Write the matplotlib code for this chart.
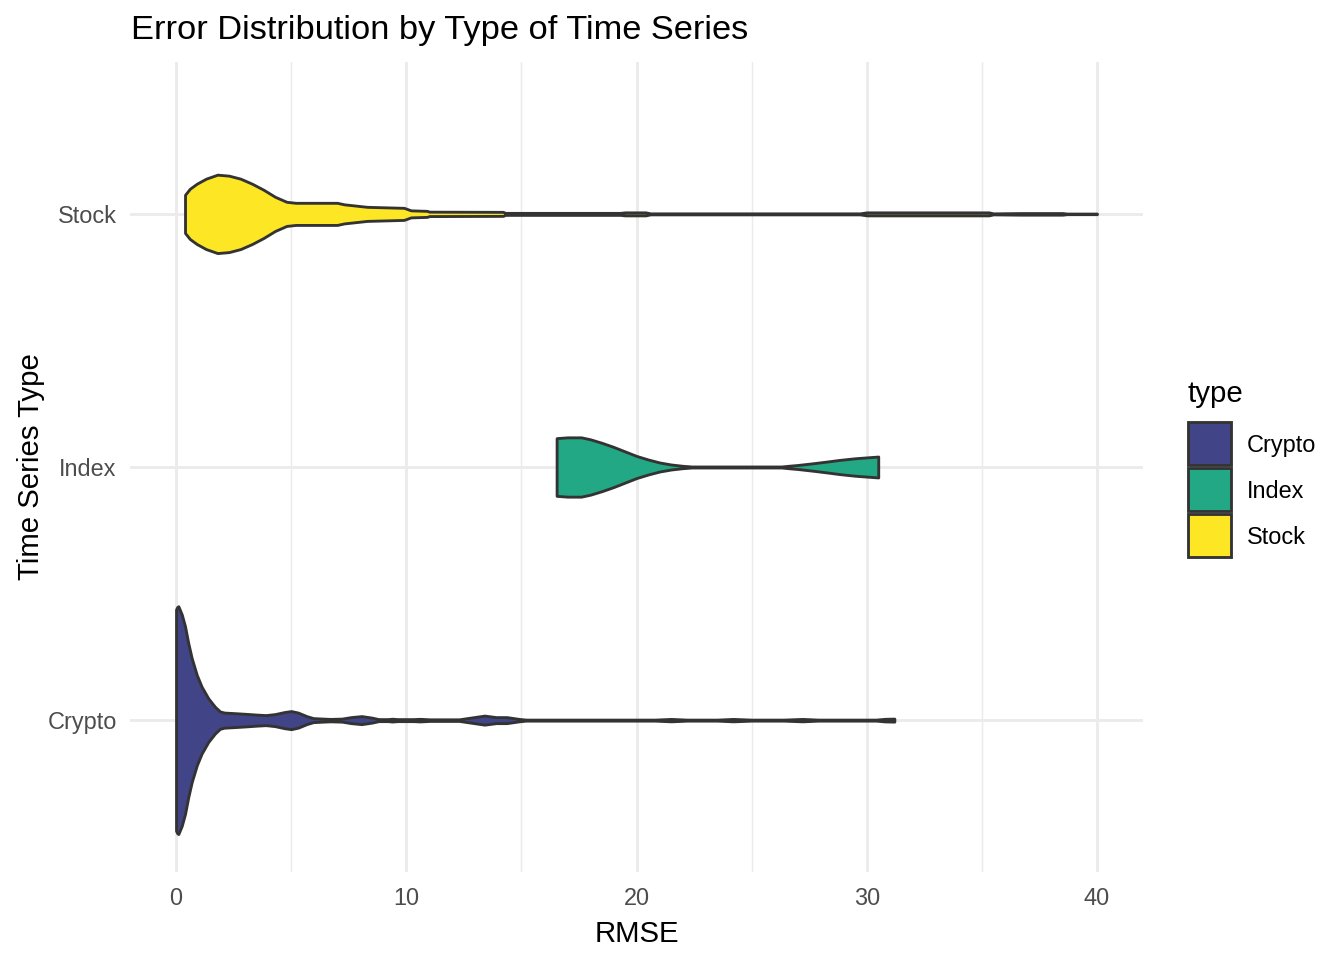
import numpy as np
import matplotlib
matplotlib.use("Agg")
import matplotlib.pyplot as plt
from matplotlib.patches import Rectangle

plt.rcParams["font.family"] = ["Liberation Sans", "DejaVu Sans"]

# ---- data: violin half-width profiles (relative density) ----
types = ["Crypto", "Index", "Stock"]
colors = ["#414487", "#22A884", "#FDE725"]

crypto_x = [0.0, 0.05, 0.1, 0.25, 0.39, 0.53, 0.68, 0.9, 1.11, 1.40, 1.69, 1.91, 2.1,
            2.5, 3.0, 3.5, 3.9, 4.3, 4.7, 5.0, 5.3, 5.67, 5.96, 6.4,
            6.7, 7.2, 7.6, 8.06, 8.5, 8.8, 9.2, 9.4, 9.6, 10.3, 10.6, 11.0, 12.3, 12.8, 13.4,
            13.9, 14.36, 14.9, 15.2, 20.8, 21.5, 22.2, 23.5, 24.2, 25.0, 26.4, 27.2, 27.9,
            30.4, 30.8, 31.2]
crypto_d = [110, 112.5, 113.3, 105, 93.3, 76.7, 61.7, 45, 33.3, 21.7, 13.3, 8.6, 7.5,
            7, 6.3, 5.5, 5, 6, 8, 9, 7.5, 4, 2, 1.5,
            1.2, 1.5, 3, 4, 2.5, 1, 1, 1.4, 1, 1, 1.3, 0.8, 0.8, 2.5, 4.5,
            3, 3, 1.2, 0.5, 0.5, 1.2, 0.5, 0.5, 1.2, 0.5, 0.5, 1.2, 0.5,
            0.5, 1.3, 1.5]

index_x = [16.53, 17.0, 17.6, 18.0, 18.5, 19.0, 19.5, 20.0, 20.5, 21.0, 21.5, 22.0, 22.4,
           26.3, 26.6, 27.0, 27.7, 28.3, 28.8, 29.5, 30.5]
index_d = [28.7, 29.5, 29.5, 27.5, 24, 20, 15.5, 11, 7.5, 4.5, 2.5, 1.2, 0.5,
           0.5, 1.2, 2, 3.8, 5.5, 7, 8.7, 10.4]

stock_x = [0.39, 0.6, 0.9, 1.3, 1.8, 2.3, 2.8, 3.3, 3.8, 4.3, 4.8, 5.2, 7.0, 7.3, 8.3, 9.9,
           10.2, 10.9, 11.0, 14.2, 14.3, 19.3, 19.5, 20.4, 20.6, 29.7, 30.0, 35.3, 35.5,
           36.7, 38.5, 38.7, 40.0]
stock_d = [19, 25, 30, 35, 39, 38, 35, 30, 24, 17, 12, 11, 11, 9.5, 7, 6,
           3.5, 3, 2.2, 2, 1.0, 1.0, 1.5, 1.5, 0.5, 0.5, 1.5, 1.5, 0.5,
           0.8, 0.8, 0.3, 0.3]

profiles = [(crypto_x, crypto_d), (index_x, index_d), (stock_x, stock_d)]
scale = 0.45 / max(crypto_d)  # widest violin spans 0.9 of a category slot

# ---- figure ----
fig = plt.figure(figsize=(7, 5), dpi=192)
W, H = 1344, 960
ax = fig.add_axes([130 / W, 1 - 872 / H, (1143 - 130) / W, (872 - 62) / H])

for i, ((xs, ds), col) in enumerate(zip(profiles, colors)):
    xs = np.asarray(xs); hw = np.asarray(ds) * scale
    ax.fill_between(xs, i + 1 - hw, i + 1 + hw, facecolor=col, edgecolor="#333333",
                    linewidth=1.07, zorder=3)

ax.set_xlim(-2, 42)
ax.set_ylim(0.4, 3.6)
ax.set_xticks([0, 10, 20, 30, 40])
ax.set_xticks([5, 15, 25, 35], minor=True)
ax.set_yticks([1, 2, 3])
ax.set_yticklabels(types)
ax.grid(True, which="major", color="#EBEBEB", linewidth=1.07, zorder=0)
ax.grid(True, which="minor", axis="x", color="#EBEBEB", linewidth=0.53, zorder=0)
ax.set_axisbelow(True)
for s in ax.spines.values():
    s.set_visible(False)
ax.tick_params(axis="both", which="both", length=0, labelsize=8.8, labelcolor="#4D4D4D")
ax.tick_params(axis="x", pad=5.8)
ax.tick_params(axis="y", pad=5)

ax.set_xlabel("RMSE", fontsize=11, labelpad=3.5)
ax.set_ylabel("Time Series Type", fontsize=11, labelpad=1)
fig.text(131 / W, 1 - 31 / H, "Error Distribution by Type of Time Series",
         fontsize=12.9, ha="left", va="center")

# ---- legend (ggplot style, drawn in figure pixels) ----
fig.text(1187 / W, 1 - 394 / H, "type", fontsize=11, ha="left", va="center")
for k, (lab, col) in enumerate(zip(types, colors)):
    top = 422 + 46 * k
    fig.add_artist(Rectangle((1188 / W, 1 - (top + 43) / H), 43 / W, 43 / H,
                             transform=fig.transFigure, facecolor=col,
                             edgecolor="#333333", linewidth=1.07))
    fig.text(1247 / W, 1 - (top + 23.5) / H, lab, fontsize=8.8, ha="left", va="center")

fig.savefig("out.png", dpi=192)
